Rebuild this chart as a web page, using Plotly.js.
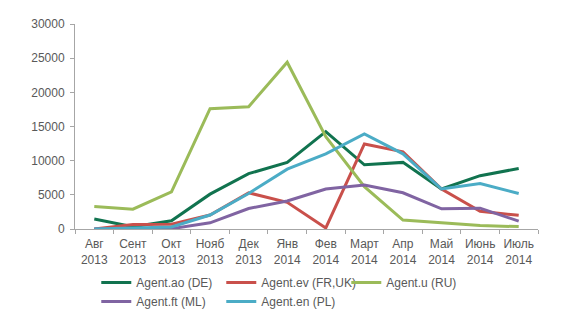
<!DOCTYPE html>
<html>
<head>
<meta charset="utf-8">
<script src="https://cdn.plot.ly/plotly-3.0.1.min.js"></script>
<style>html,body{margin:0;padding:0;background:#fff;}#chart{width:580px;height:331px;}</style>
</head>
<body>
<div id="chart"></div>
<script>
const categories = ["Авг<br>2013","Сент<br>2013","Окт<br>2013","Нояб<br>2013","Дек<br>2013","Янв<br>2014","Фев<br>2014","Март<br>2014","Апр<br>2014","Май<br>2014","Июнь<br>2014","Июль<br>2014"];
const seriesNames = ["Agent.ao (DE)","Agent.ev (FR,UK)","Agent.u (RU)","Agent.ft (ML)","Agent.en (PL)"];
const agentAO = [1450, 350, 1200, 5100, 8100, 9750, 14250, 9400, 9750, 5850, 7800, 8850];
const agentEV = [0, 650, 700, 2050, 5300, 3900, 150, 12450, 11300, 5850, 2600, 2000];
const agentU  = [3300, 2900, 5450, 17600, 17900, 24400, 13500, 6200, 1300, 900, 500, 350];
const agentFT = [0, 50, 50, 900, 3000, 4100, 5850, 6450, 5300, 2950, 3050, 1150];
const agentEN = [0, 100, 300, 2050, 5200, 8750, 11000, 13900, 11000, 5850, 6650, 5200];
const seriesColors = ["#11734f","#c9504b","#9bbb59","#8064a2","#4bacc6"];
const seriesValues = [agentAO, agentEV, agentU, agentFT, agentEN];

const traces = seriesValues.map((v, i) => ({
  type: "scatter", mode: "lines", x: categories, y: v, name: seriesNames[i],
  line: {color: seriesColors[i], width: 3}
}));

const font = {family: "Liberation Sans, Arial, sans-serif", size: 12, color: "#595959"};
const layout = {
  width: 580, height: 331,
  margin: {l: 75, r: 42, t: 24, b: 102},
  paper_bgcolor: "#fff", plot_bgcolor: "#fff",
  font: font,
  showlegend: true,
  xaxis: {
    type: "category", range: [-0.5, 11.5], showgrid: false, zeroline: false,
    showline: true, linecolor: "#a6a6a6", linewidth: 1,
    ticks: "outside", tickson: "boundaries", ticklen: 4, tickcolor: "#a6a6a6",
    tickangle: 0, ticklabelstandoff: 4, tickfont: font, fixedrange: true
  },
  yaxis: {
    range: [0, 30000], dtick: 5000, showgrid: false, zeroline: false,
    showline: true, linecolor: "#a6a6a6", linewidth: 1,
    ticks: "outside", ticklen: 4, tickcolor: "#a6a6a6",
    ticklabelstandoff: 3, tickfont: font, tickformat: "d", fixedrange: true
  },
  legend: {
    orientation: "h", xref: "container", yref: "container",
    x: 0.166, xanchor: "left", y: 0.19, yanchor: "top",
    font: font, entrywidth: 80, entrywidthmode: "pixels",
    tracegroupgap: 0, itemwidth: 30, bgcolor: "rgba(0,0,0,0)"
  }
};
Plotly.newPlot("chart", traces, layout, {displayModeBar: false, staticPlot: true});
</script>
</body>
</html>
